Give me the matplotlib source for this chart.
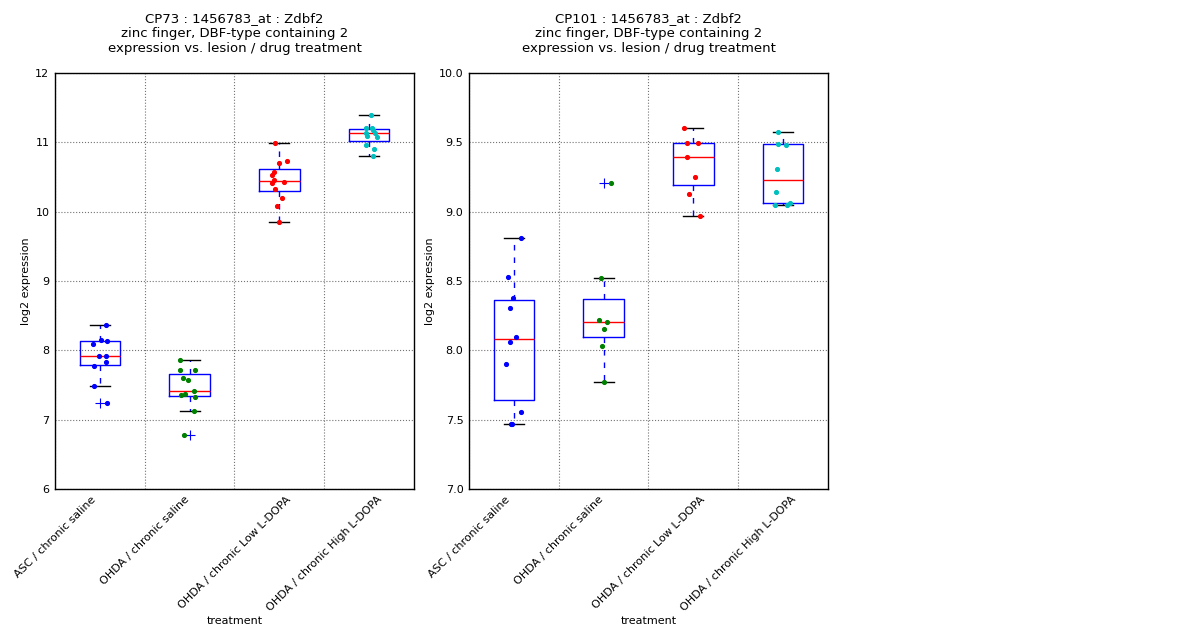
import numpy as np
import matplotlib
matplotlib.use("Agg")
import matplotlib.pyplot as plt
from matplotlib.ticker import FormatStrFormatter

# --- data -------------------------------------------------------------------
treatments = [
    "ASC / chronic saline",
    "OHDA / chronic saline",
    "OHDA / chronic Low L-DOPA",
    "OHDA / chronic High L-DOPA",
]

cp73_asc_saline = [8.365, 8.153, 8.14, 8.096, 7.922, 7.922, 7.836, 7.778, 7.485, 7.245]
cp73_ohda_saline = [7.861, 7.716, 7.716, 7.605, 7.572, 7.418, 7.37, 7.356, 7.327, 7.13, 6.779]
cp73_ohda_low = [10.995, 10.735, 10.706, 10.577, 10.533, 10.462, 10.432, 10.418,
                 10.332, 10.202, 10.086, 9.851]
cp73_ohda_high = [11.394, 11.212, 11.212, 11.183, 11.14, 11.14, 11.096, 11.082,
                  10.966, 10.908, 10.807]

cp101_asc_saline = [8.81, 8.531, 8.38, 8.308, 8.099, 8.06, 7.904, 7.555, 7.466, 7.47]
cp101_ohda_saline = [9.209, 8.522, 8.221, 8.207, 8.156, 8.034, 7.774]
cp101_ohda_low = [9.606, 9.493, 9.498, 9.397, 9.253, 9.13, 8.971]
cp101_ohda_high = [9.575, 9.49, 9.483, 9.308, 9.144, 9.065, 9.048, 9.048]

# horizontal jitter of the dots (fraction of one category step)
cp73_jitter = [
    [0.068, 0.009, 0.079, -0.080, -0.010, 0.065, 0.065, -0.069, -0.069, 0.079],
    [-0.107, -0.107, 0.060, -0.074, -0.018, 0.046, -0.051, -0.099, 0.057, 0.046, -0.066],
    [-0.049, 0.085, -0.004, -0.064, -0.082, -0.064, 0.051, -0.082, -0.049, 0.029, -0.030, -0.004],
    [0.018, -0.038, 0.029, 0.040, -0.038, 0.062, -0.027, 0.085, -0.038, 0.051, 0.040],
]
cp101_jitter = [
    [0.076, -0.066, -0.013, -0.047, 0.020, -0.047, -0.091, 0.076, -0.036, -0.020],
    [0.082, -0.029, -0.055, 0.035, 0.001, -0.018, 0.001],
    [-0.108, -0.071, 0.051, -0.075, 0.018, -0.049, 0.070],
    [-0.060, -0.057, 0.029, -0.071, -0.082, 0.077, -0.090, 0.040],
]

panels = [
    {
        "title": "CP73 : 1456783_at : Zdbf2\nzinc finger, DBF-type containing 2\n"
                 "expression vs. lesion / drug treatment",
        "groups": [cp73_asc_saline, cp73_ohda_saline, cp73_ohda_low, cp73_ohda_high],
        "jitter": cp73_jitter,
        "ylim": (6, 12),
        "yticks": [6, 7, 8, 9, 10, 11, 12],
        "fmt": "%d",
    },
    {
        "title": "CP101 : 1456783_at : Zdbf2\nzinc finger, DBF-type containing 2\n"
                 "expression vs. lesion / drug treatment",
        "groups": [cp101_asc_saline, cp101_ohda_saline, cp101_ohda_low, cp101_ohda_high],
        "jitter": cp101_jitter,
        "ylim": (7.0, 10.0),
        "yticks": [7.0, 7.5, 8.0, 8.5, 9.0, 9.5, 10.0],
        "fmt": "%.1f",
    },
]

dot_colors = [(0, 0, 1), (0, 0.5, 0), (1, 0, 0), (0, 0.75, 0.75)]

fig = plt.figure(figsize=(12, 6.4), dpi=100)
axes_rects = [
    [0.0458, 0.236, 0.2992, 0.650],
    [0.3908, 0.236, 0.2992, 0.650],
]

for rect, panel in zip(axes_rects, panels):
    ax = fig.add_axes(rect)
    positions = np.arange(1, len(treatments) + 1)
    ax.boxplot(
        panel["groups"],
        positions=positions,
        widths=0.45,
        boxprops=dict(color="blue", linewidth=1.0),
        whiskerprops=dict(color="blue", linestyle="--", linewidth=1.0, dashes=(4.0, 5.0)),
        capprops=dict(color="black", linewidth=1.0),
        medianprops=dict(color="red", linewidth=1.0),
        flierprops=dict(marker="+", markeredgecolor="blue", markersize=7,
                        markeredgewidth=0.8, linestyle="none"),
        zorder=2,
    )
    for i, (vals, jit) in enumerate(zip(panel["groups"], panel["jitter"])):
        xs = positions[i] + np.array(jit)
        ax.plot(xs, vals, linestyle="none", marker="o", markersize=2.7,
                color=dot_colors[i], markeredgecolor=dot_colors[i], zorder=4)

    ax.set_xlim(0.5, len(treatments) + 0.5)
    ax.set_ylim(*panel["ylim"])
    # the original puts the labels (and grid) on the category boundaries
    ax.set_xticks(positions - 0.5)
    ax.set_xticklabels(treatments, rotation=45, ha="center", fontsize=8)
    ax.set_yticks(panel["yticks"])
    ax.yaxis.set_major_formatter(FormatStrFormatter(panel["fmt"]))
    ax.tick_params(axis="both", which="both", length=0, labelsize=8, pad=4)
    ax.grid(True, color="0.45", linestyle=":", linewidth=0.8)
    ax.set_axisbelow(True)
    for sp in ax.spines.values():
        sp.set_color("black")
        sp.set_linewidth(1.0)
    ax.set_title(panel["title"], fontsize=9.5, pad=15)
    ax.set_xlabel("treatment", fontsize=8, labelpad=2)
    ax.set_ylabel("log2 expression", fontsize=8, labelpad=3)

fig.savefig("out.png", dpi=100, facecolor="white")
